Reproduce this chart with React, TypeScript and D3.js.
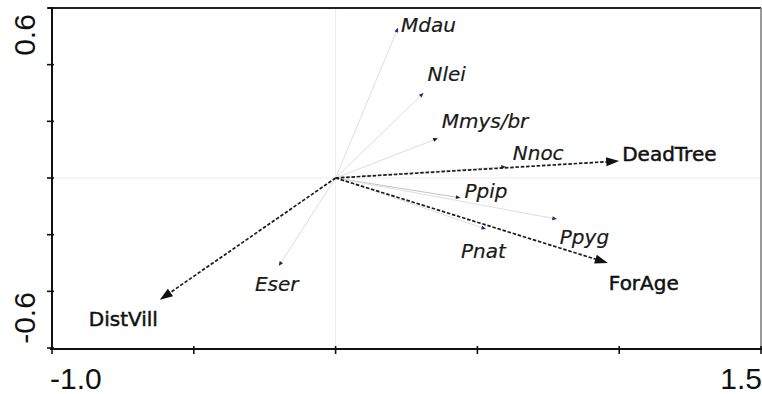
import React from 'react';
import * as d3 from 'd3';

// Environmental variables (biplot arrows)
const envNames = ['DeadTree', 'ForAge', 'DistVill'];
const envX = [1.0, 0.96, -0.62];
const envY = [0.06, -0.3, -0.43];

// Species scores
const speciesNames = ['Mdau', 'Nlei', 'Mmys/br', 'Nnoc', 'Ppip', 'Ppyg', 'Pnat', 'Eser'];
const speciesX = [0.22, 0.31, 0.36, 0.6, 0.44, 0.78, 0.53, -0.2];
const speciesY = [0.53, 0.3, 0.14, 0.04, -0.07, -0.145, -0.18, -0.31];

// Axis ticks and the two labelled ends of each axis
const xTicks = [-1.0, -0.5, 0, 0.5, 1.0, 1.5];
const yTicks = [-0.6, -0.4, -0.2, 0, 0.2, 0.4, 0.6];
const xTickLabels = ['-1.0', '1.5'];
const yTickLabels = ['-0.6', '0.6'];

const W = 762;
const H = 394;
const M = { left: 52, right: 761, top: 8, bottom: 348 };

// label placement relative to arrow tips (px)
const envLabelOffset: Record<string, [number, number]> = {
  DeadTree: [3, 0],
  ForAge: [1, 27],
  DistVill: [-71, 26],
};
const speciesLabelOffset: Record<string, [number, number]> = {
  Mdau: [3, 4],
  Nlei: [4, -12],
  'Mmys/br': [4, -10],
  Nnoc: [7, -7],
  Ppip: [4, 0],
  Ppyg: [3, 25],
  Pnat: [-25, 29],
  Eser: [-24, 25],
};
const speciesHead: Record<string, string> = {
  Mdau: '#23238f',
  Nlei: '#23238f',
  'Mmys/br': '#111',
  Nnoc: '#222',
  Ppip: '#222',
  Ppyg: '#23238f',
  Pnat: '#23238f',
  Eser: '#222',
};
const speciesLine: Record<string, string> = {
  Ppip: '#c4c4c4',
};

function head(
  x0: number, y0: number, x1: number, y1: number, len: number, half: number
): string {
  const a = Math.atan2(y1 - y0, x1 - x0);
  const bx = x1 - len * Math.cos(a);
  const by = y1 - len * Math.sin(a);
  const px = -Math.sin(a) * half;
  const py = Math.cos(a) * half;
  return `M${x1},${y1}L${bx + px},${by + py}L${bx - px},${by - py}Z`;
}

export default function App() {
  const x = d3.scaleLinear().domain([-1.0, 1.5]).range([M.left, M.right]);
  const y = d3.scaleLinear().domain([-0.6, 0.6]).range([M.bottom, M.top]);
  const ox = x(0);
  const oy = y(0);

  const axisFont = '"Liberation Sans", Arial, sans-serif';
  const labelFont = '"DejaVu Sans", Verdana, sans-serif';

  return (
    <svg
      width={W}
      height={H}
      style={{ position: 'absolute', left: 0, top: 0, background: '#fff' }}
    >
      {/* zero reference lines */}
      <line x1={ox} x2={ox} y1={M.top} y2={M.bottom} stroke="#ececec" strokeWidth={1} />
      <line x1={M.left} x2={M.right} y1={oy} y2={oy} stroke="#ececec" strokeWidth={1} />

      {/* frame */}
      <line x1={M.left - 4} x2={M.right} y1={M.top} y2={M.top} stroke="#222" strokeWidth={2} />
      <line x1={M.right} x2={M.right} y1={M.top} y2={M.bottom + 1} stroke="#777" strokeWidth={1.5} />

      {/* left axis */}
      <line x1={M.left} x2={M.left} y1={M.top - 1} y2={M.bottom + 2} stroke="#111" strokeWidth={2} />
      {yTicks.map((t) => (
        <line key={'yt' + t} x1={M.left - 5} x2={M.left + 2} y1={y(t)} y2={y(t)} stroke="#111" strokeWidth={1.6} />
      ))}
      {/* bottom axis */}
      <line x1={M.left - 2} x2={M.right + 1} y1={M.bottom + 1} y2={M.bottom + 1} stroke="#111" strokeWidth={2} />
      {xTicks.map((t) => (
        <line key={'xt' + t} x1={x(t)} x2={x(t)} y1={M.bottom - 2} y2={M.bottom + 6} stroke="#111" strokeWidth={1.6} />
      ))}

      <text x={x(-1.0) - 2} y={389} fontFamily={axisFont} fontSize={30} fill="#111">
        {xTickLabels[0]}
      </text>
      <text x={x(1.5) + 1} y={389} fontFamily={axisFont} fontSize={30} fill="#111" textAnchor="end">
        {xTickLabels[1]}
      </text>
      <text
        transform={`translate(35,${y(-0.6) - 30}) rotate(-90)`}
        fontFamily={axisFont}
        fontSize={30}
        fill="#111"
        textAnchor="middle"
      >
        {yTickLabels[0]}
      </text>
      <text
        transform={`translate(35,${y(0.6) + 27}) rotate(-90)`}
        fontFamily={axisFont}
        fontSize={30}
        fill="#111"
        textAnchor="middle"
      >
        {yTickLabels[1]}
      </text>

      {/* species arrows */}
      {speciesNames.map((n, i) => {
        const tx = x(speciesX[i]);
        const ty = y(speciesY[i]);
        const [dx, dy] = speciesLabelOffset[n];
        return (
          <g key={n}>
            <line x1={ox} y1={oy} x2={tx} y2={ty} stroke={speciesLine[n] || '#dedede'} strokeWidth={1} />
            <path d={head(ox, oy, tx, ty, 4.5, 2)} fill={speciesHead[n]} />
            <text
              x={tx + dx}
              y={ty + dy}
              fontFamily={labelFont}
              fontStyle="italic"
              fontSize={20}
              fill="#1a1a1a"
              stroke="#1a1a1a"
              strokeWidth={0.2}
            >
              {n}
            </text>
          </g>
        );
      })}

      {/* environmental arrows */}
      {envNames.map((n, i) => {
        const tx = x(envX[i]);
        const ty = y(envY[i]);
        const [dx, dy] = envLabelOffset[n];
        const a = Math.atan2(ty - oy, tx - ox);
        const ex = tx - 10 * Math.cos(a);
        const ey = ty - 10 * Math.sin(a);
        return (
          <g key={n}>
            <line
              x1={ox}
              y1={oy}
              x2={ex}
              y2={ey}
              stroke="#1a1a1a"
              strokeWidth={1.7}
              strokeDasharray="3.5 1.8"
            />
            <path d={head(ox, oy, tx, ty, 13, 4.5)} fill="#111" />
            <text
              x={tx + dx}
              y={ty + dy}
              fontFamily={labelFont}
              fontSize={20}
              fill="#111"
              stroke="#111"
              strokeWidth={0.5}
            >
              {n}
            </text>
          </g>
        );
      })}
    </svg>
  );
}
